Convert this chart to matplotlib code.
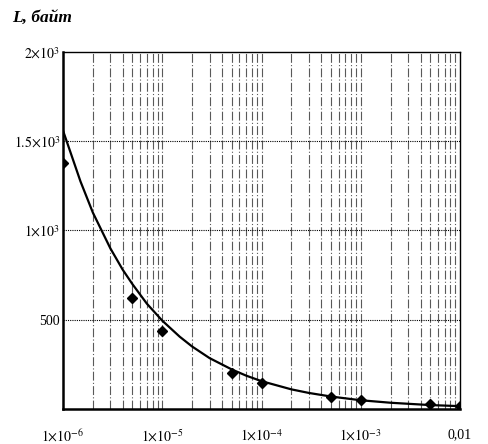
import matplotlib
matplotlib.use("Agg")
import matplotlib.pyplot as plt
from matplotlib.ticker import FixedLocator, NullFormatter

plt.rcParams["font.family"] = "Liberation Serif"
plt.rcParams["mathtext.fontset"] = "stix"

# measured points (diamonds)
x_pts = [1e-6, 5e-6, 1e-5, 5e-5, 1e-4, 5e-4, 1e-3, 5e-3, 1e-2]
L_pts = [1380, 620, 435, 200, 145, 70, 50, 28, 17]

# fitted curve
x_fit = [1e-6, 1.5e-6, 2e-6, 3e-6, 4e-6, 5e-6, 7e-6, 1e-5, 1.5e-5, 2e-5, 3e-5,
         5e-5, 7e-5, 1e-4, 2e-4, 3e-4, 5e-4, 1e-3, 2e-3, 5e-3, 1e-2]
L_fit = [1560, 1275, 1100, 900, 780, 700, 590, 495, 405, 350, 285,
         222, 187, 156, 110, 90, 70, 49, 35, 22, 16]

x_ticks = [1e-6, 1e-5, 1e-4, 1e-3, 1e-2]
x_labels = [r"$1{\times}10^{-6}$", r"$1{\times}10^{-5}$", r"$1{\times}10^{-4}$",
            r"$1{\times}10^{-3}$", "0,01"]
y_ticks = [500, 1000, 1500, 2000]
y_labels = ["500", r"$1{\times}10^{3}$", r"$1.5{\times}10^{3}$", r"$2{\times}10^{3}$"]

fig = plt.figure(figsize=(4.89, 4.44), dpi=100)
ax = fig.add_axes([63 / 489, 1 - 409 / 444, 397 / 489, 357 / 444])

ax.set_xscale("log")
ax.set_xlim(1e-6, 1e-2)
ax.set_ylim(0, 2000)

# vertical grid at every 1..9 x 10^k
vlines = [m * 10.0 ** k for k in range(-6, -2) for m in range(1, 10)]
for v in vlines[1:]:
    ax.axvline(v, color="0.35", lw=0.8, ls=(0, (8, 2, 1, 2)), zorder=1)
for h in y_ticks[:-1]:
    ax.axhline(h, color="black", lw=0.8, ls=(0, (1, 1)), zorder=1)

ax.plot(x_fit, L_fit, color="black", lw=1.6, zorder=3)
ax.plot(x_pts, L_pts, ls="none", marker="D", ms=5.5, color="black", zorder=4)

ax.xaxis.set_major_locator(FixedLocator(x_ticks))
ax.xaxis.set_minor_formatter(NullFormatter())
ax.set_xticks(x_ticks)
ax.set_xticklabels(x_labels, fontsize=10)
ax.set_yticks(y_ticks)
ax.set_yticklabels(y_labels, fontsize=10)
ax.tick_params(which="both", length=0)
ax.tick_params(axis="y", pad=2)
ax.tick_params(axis="x", pad=14)

for side in ["top", "right"]:
    ax.spines[side].set_linewidth(1.0)
for side in ["left", "bottom"]:
    ax.spines[side].set_linewidth(1.8)

fig.text(12 / 489, 1 - 18 / 444, "L, байт", fontsize=12.5, fontweight="bold",
         fontstyle="italic", va="center", ha="left")

fig.savefig("out.png", dpi=100)
